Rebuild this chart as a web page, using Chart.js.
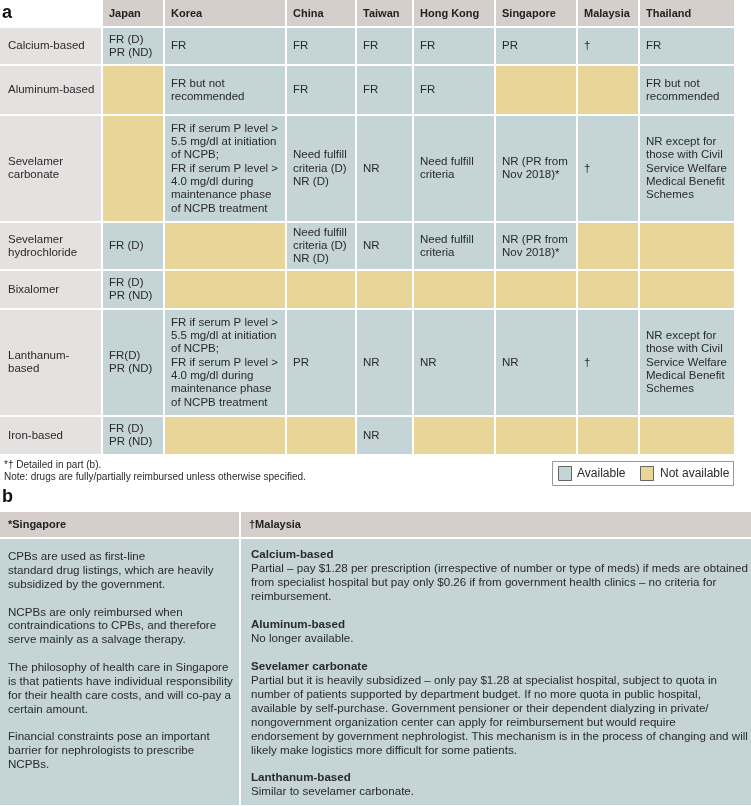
<!DOCTYPE html>
<html>
<head>
<meta charset="utf-8">
<script src="https://cdn.jsdelivr.net/npm/chart.js@4/dist/chart.umd.min.js"></script>
<style>
  body { margin: 0; background: #fff; }
  canvas { display: block; }
</style>
</head>
<body>
<canvas id="myChart" width="751" height="806"></canvas>
<script>
// ---- data ----
const countries = ["Japan", "Korea", "China", "Taiwan", "Hong Kong", "Singapore", "Malaysia", "Thailand"];
const binders = ["Calcium-based", "Aluminum-based", "Sevelamer\ncarbonate", "Sevelamer\nhydrochloride",
  "Bixalomer", "Lanthanum-\nbased", "Iron-based"];
// 1 = available, 0 = not available (rows = binders, cols = countries)
const available = [
  [1, 1, 1, 1, 1, 1, 1, 1],
  [0, 1, 1, 1, 1, 0, 0, 1],
  [0, 1, 1, 1, 1, 1, 1, 1],
  [1, 0, 1, 1, 1, 1, 0, 0],
  [1, 0, 0, 0, 0, 0, 0, 0],
  [1, 1, 1, 1, 1, 1, 1, 1],
  [1, 0, 0, 1, 0, 0, 0, 0]
];
const reimbursement = [
  ["FR (D)\nPR (ND)", "FR", "FR", "FR", "FR", "PR", "†", "FR"],
  ["", "FR but not\nrecommended", "FR", "FR", "FR", "", "", "FR but not\nrecommended"],
  ["", "FR if serum P level >\n5.5 mg/dl at initiation\nof NCPB;\nFR if serum P level >\n4.0 mg/dl during\nmaintenance phase\nof NCPB treatment",
    "Need fulfill\ncriteria (D)\nNR (D)", "NR", "Need fulfill\ncriteria", "NR (PR from\nNov 2018)*", "†",
    "NR except for\nthose with Civil\nService Welfare\nMedical Benefit\nSchemes"],
  ["FR (D)", "", "Need fulfill\ncriteria (D)\nNR (D)", "NR", "Need fulfill\ncriteria", "NR (PR from\nNov 2018)*", "", ""],
  ["FR (D)\nPR (ND)", "", "", "", "", "", "", ""],
  ["FR(D)\nPR (ND)", "FR if serum P level >\n5.5 mg/dl at initiation\nof NCPB;\nFR if serum P level >\n4.0 mg/dl during\nmaintenance phase\nof NCPB treatment",
    "PR", "NR", "NR", "NR", "†", "NR except for\nthose with Civil\nService Welfare\nMedical Benefit\nSchemes"],
  ["FR (D)\nPR (ND)", "", "", "NR", "", "", "", ""]
];
const legendLabels = ["Available", "Not available"];
const footnotes = ["*† Detailed in part (b).", "Note: drugs are fully/partially reimbursed unless otherwise specified."];

const singaporeNotes = [
  "CPBs are used as first-line\nstandard drug listings, which are heavily\nsubsidized by the government.",
  "NCPBs are only reimbursed when\ncontraindications to CPBs, and therefore\nserve mainly as a salvage therapy.",
  "The philosophy of health care in Singapore\nis that patients have individual responsibility\nfor their health care costs, and will co-pay a\ncertain amount.",
  "Financial constraints pose an important\nbarrier for nephrologists to prescribe\nNCPBs."
];
const malaysiaDrugs = ["Calcium-based", "Aluminum-based", "Sevelamer carbonate", "Lanthanum-based"];
const malaysiaNotes = [
  "Partial – pay $1.28 per prescription (irrespective of number or type of meds) if meds are obtained\nfrom specialist hospital but pay only $0.26 if from government health clinics – no criteria for\nreimbursement.",
  "No longer available.",
  "Partial but it is heavily subsidized – only pay $1.28 at specialist hospital, subject to quota in\nnumber of patients supported by department budget. If no more quota in public hospital,\navailable by self-purchase. Government pensioner or their dependent dialyzing in private/\nnongovernment organization center can apply for reimbursement but would require\nendorsement by government nephrologist. This mechanism is in the process of changing and will\nlikely make logistics more difficult for some patients.",
  "Similar to sevelamer carbonate."
];

// ---- layout (canvas units, axes run 0..751 / 0..806) ----
const colEdges = [0, 102, 164, 286, 356, 413, 495, 577, 639, 735];
const rowEdges = [0, 27, 65, 115, 222, 270, 309, 416, 455];
const partB = { top: 512, headBottom: 538, bottom: 805, split: 240, right: 751 };
const legendBox = { x0: 552, x1: 733, y0: 461, y1: 485 };

const AVAIL = "#c4d4d7";
const NOT_AVAIL = "#e8d598";
const HEAD = "#d5cecb";
const LABEL = "#e5e1e0";
const TEXT = "#2a2a2a";
const FONT = "'Liberation Sans', Arial, sans-serif";

function cell(x0, x1, y0, y1, color, border) {
  return {
    type: "scatter",
    data: [{x: x0, y: y0}, {x: x1, y: y0}, {x: x1, y: y1}, {x: x0, y: y1}, {x: x0, y: y0}],
    showLine: true,
    fill: "shape",
    backgroundColor: color,
    borderColor: border || "rgba(0,0,0,0)",
    borderWidth: border ? 1 : 0,
    pointRadius: 0,
    pointHoverRadius: 0
  };
}

const datasets = [];
// part a
for (let c = 0; c < countries.length; c++) {
  datasets.push(cell(colEdges[c + 1] + 1, colEdges[c + 2] - 1, rowEdges[0], rowEdges[1] - 1, HEAD));
}
for (let r = 0; r < binders.length; r++) {
  const y0 = rowEdges[r + 1] + 1, y1 = rowEdges[r + 2] - 1;
  datasets.push(cell(colEdges[0], colEdges[1] - 1, y0, y1, LABEL));
  for (let c = 0; c < countries.length; c++) {
    const color = available[r][c] ? AVAIL : NOT_AVAIL;
    datasets.push(cell(colEdges[c + 1] + 1, colEdges[c + 2] - 1, y0, y1, color));
  }
}
// legend (chart.js paints the first dataset on top, so swatches go before the frame)
datasets.push(cell(558.5, 571.5, 466.5, 480.5, AVAIL, "#666"));
datasets.push(cell(640.5, 653.5, 466.5, 480.5, NOT_AVAIL, "#666"));
datasets.push(cell(legendBox.x0 + 0.5, legendBox.x1 + 0.5, legendBox.y0 + 0.5, legendBox.y1 + 0.5, "#ffffff", "#9a9a9a"));
// part b
datasets.push(cell(0, partB.split - 1, partB.top, partB.headBottom - 1, HEAD));
datasets.push(cell(partB.split + 1, partB.right, partB.top, partB.headBottom - 1, HEAD));
datasets.push(cell(0, partB.split - 1, partB.headBottom + 1, partB.bottom, AVAIL));
datasets.push(cell(partB.split + 1, partB.right, partB.headBottom + 1, partB.bottom, AVAIL));

function drawLines(ctx, lines, x, yFirst, lh) {
  lines.forEach((l, i) => ctx.fillText(l, x, yFirst + i * lh));
}

const textPlugin = {
  id: "tableText",
  afterDatasetsDraw(chart) {
    const ctx = chart.ctx;
    const px = v => chart.scales.x.getPixelForValue(v);
    const py = v => chart.scales.y.getPixelForValue(v);
    ctx.save();
    ctx.fillStyle = TEXT;
    ctx.textBaseline = "middle";
    ctx.textAlign = "left";
    const lh = 13.3;

    // panel letters
    ctx.font = "bold 18px " + FONT;
    ctx.fillStyle = "#111";
    ctx.fillText("a", px(2), py(13));
    ctx.fillText("b", px(2), py(497));

    // header
    ctx.font = "bold 11px " + FONT;
    ctx.fillStyle = "#222";
    countries.forEach((name, c) => {
      ctx.fillText(name, px(colEdges[c + 1] + 7), py((rowEdges[0] + rowEdges[1]) / 2));
    });

    // body
    ctx.font = "11.5px " + FONT;
    ctx.fillStyle = TEXT;
    binders.forEach((name, r) => {
      const yc = (rowEdges[r + 1] + rowEdges[r + 2]) / 2;
      let lines = name.split("\n");
      drawLines(ctx, lines, px(8), py(yc - (lines.length - 1) * lh / 2), lh);
      reimbursement[r].forEach((txt, c) => {
        if (!txt) return;
        lines = txt.split("\n");
        drawLines(ctx, lines, px(colEdges[c + 1] + 7), py(yc - (lines.length - 1) * lh / 2), lh);
      });
    });

    // footnotes
    ctx.font = "10px " + FONT;
    drawLines(ctx, footnotes, px(4), py(465), 12);

    // legend text
    ctx.font = "12px " + FONT;
    ctx.fillText(legendLabels[0], px(577), py(473.5));
    ctx.fillText(legendLabels[1], px(660), py(473.5));

    // part b headers
    ctx.font = "bold 11px " + FONT;
    ctx.fillStyle = "#222";
    ctx.fillText("*Singapore", px(8), py(525));
    ctx.fillText("†Malaysia", px(249), py(525));

    // part b body
    ctx.fillStyle = TEXT;
    ctx.font = "11.6px " + FONT;
    let lb = 13.85;
    let y = 557;
    singaporeNotes.forEach(p => {
      const lines = p.split("\n");
      drawLines(ctx, lines, px(8), py(y), lb);
      y += (lines.length + 1) * lb;
    });
    lb = 13.95;
    y = 555;
    malaysiaDrugs.forEach((d, i) => {
      ctx.font = "bold 11.6px " + FONT;
      ctx.fillText(d, px(251), py(y));
      ctx.font = "11.6px " + FONT;
      const lines = malaysiaNotes[i].split("\n");
      drawLines(ctx, lines, px(251), py(y + lb), lb);
      y += (lines.length + 2) * lb;
    });
    ctx.restore();
  }
};

const ctx = document.getElementById("myChart").getContext("2d");
const myChart = new Chart(ctx, {
  type: "scatter",
  data: { datasets: datasets },
  options: {
    responsive: false,
    animation: false,
    devicePixelRatio: 1,
    layout: { padding: 0 },
    events: [],
    plugins: { legend: { display: false }, tooltip: { enabled: false } },
    scales: {
      x: { type: "linear", min: 0, max: 751, display: false },
      y: { type: "linear", min: 0, max: 806, reverse: true, display: false }
    }
  },
  plugins: [textPlugin]
});
</script>
</body>
</html>
